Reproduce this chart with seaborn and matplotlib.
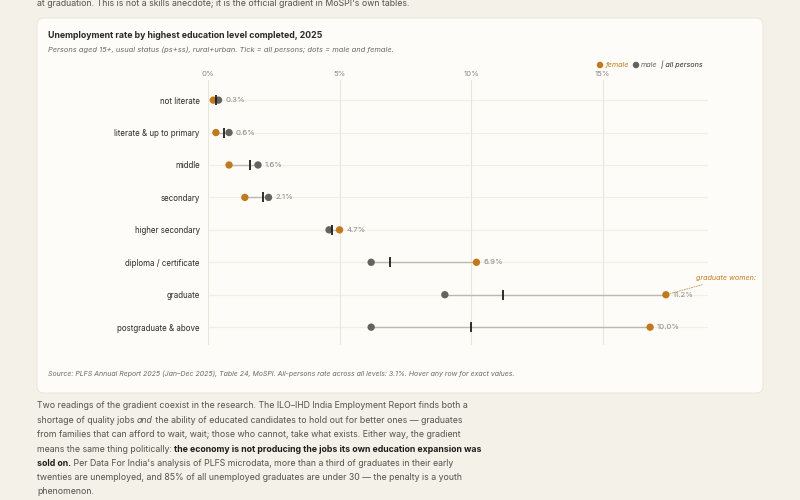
import numpy as np
import pandas as pd
import matplotlib.pyplot as plt
import seaborn as sns
from matplotlib.patches import FancyBboxPatch

# values (unemployment rate, %)
levels = ["not literate", "literate & up to primary", "middle", "secondary",
          "higher secondary", "diploma / certificate", "graduate", "postgraduate & above"]
female = [0.2, 0.3, 0.8, 1.4, 5.0, 10.2, 17.4, 16.8]
male = [0.4, 0.8, 1.9, 2.3, 4.6, 6.2, 9.0, 6.2]
persons = [0.3, 0.6, 1.6, 2.1, 4.7, 6.9, 11.2, 10.0]
x_ticks = [0, 5, 10, 15]
x_labels = ["0%", "5%", "10%", "15%"]

ORANGE = "#bf7a1c"
GREY = "#65635e"
INK = "#2b2a27"
MUTED = "#8a877f"

sns.set_theme(style="white")
plt.rcParams["font.family"] = ["Inter", "DejaVu Sans"]

df = pd.DataFrame({
    "level": levels * 2,
    "sex": ["female"] * len(levels) + ["male"] * len(levels),
    "rate": female + male,
})

fig = plt.figure(figsize=(8, 5), dpi=100)
fig.patch.set_facecolor("#f4f1e8")

# page layer in pixel coordinates
bg = fig.add_axes([0, 0, 1, 1], zorder=0)
bg.set_xlim(0, 800)
bg.set_ylim(500, 0)
bg.axis("off")
bg.add_patch(FancyBboxPatch((37, 18), 726, 375, boxstyle="round,pad=0,rounding_size=7",
                            facecolor="#fdfcf8", edgecolor="#ebe7dc", linewidth=0.8))

BODY = 6.3
bg.text(37, 3, "at graduation. This is not a skills anecdote; it is the official gradient in MoSPI's own tables.",
        fontsize=BODY, color="#555350", va="center", ha="left")

bg.text(48, 35, "Unemployment rate by highest education level completed, 2025",
        fontsize=6.3, fontweight="bold", color=INK, va="center")
bg.text(48, 50, "Persons aged 15+, usual status (ps+ss), rural+urban. Tick = all persons; dots = male and female.",
        fontsize=5.4, fontstyle="italic", color="#6b6963", va="center")
bg.text(48, 374, "Source: PLFS Annual Report 2025 (Jan\u2013Dec 2025), Table 24, MoSPI. All-persons rate across all levels: 3.1%. Hover any row for exact values.",
        fontsize=5.0, fontstyle="italic", color="#6b6963", va="center")

# chart
ax = fig.add_axes([208 / 800, 1 - 345 / 500, 500 / 800, 265 / 500], zorder=1)
ax.set_facecolor("none")

lo = np.minimum(female, male)
hi = np.maximum(female, male)
ypos = np.arange(len(levels))
for y in ypos:
    ax.axhline(y, color="#f1eee7", lw=0.9, zorder=0)
ax.hlines(ypos, lo, hi, color="#bcb9b1", lw=1.0, zorder=1)

sns.scatterplot(data=df, x="rate", y="level", hue="sex",
                palette={"female": ORANGE, "male": GREY},
                s=28, edgecolor="none", legend=False, zorder=3, ax=ax)
sns.scatterplot(x=persons, y=levels, marker="|", s=42, color="#1f1e1c",
                linewidth=1.3, zorder=4, ax=ax)

for y, h, p in zip(ypos, hi, persons):
    ax.annotate(f"{p:.1f}%", xy=(h, y), xytext=(5, 0), textcoords="offset points",
                fontsize=5.6, color=MUTED, va="center", ha="left")

g = levels.index("graduate")
ax.annotate("graduate women:", xy=(female[g], g), xytext=(22, 12), textcoords="offset points",
            fontsize=5.2, fontstyle="italic", color=ORANGE, va="center", ha="left",
            arrowprops=dict(arrowstyle="-", color="#c99a55", lw=0.6, linestyle=(0, (1.5, 1.5)),
                            shrinkA=1, shrinkB=3))

ax.set_xlim(0, 19)
ax.set_ylim(7.55, -0.62)
ax.set_xticks(x_ticks)
ax.set_xticklabels(x_labels)
ax.xaxis.tick_top()
ax.tick_params(axis="x", length=0, pad=2, labelsize=5.6, labelcolor=MUTED)
ax.tick_params(axis="y", length=0, pad=6, labelsize=5.7, labelcolor=INK)
ax.set_xlabel("")
ax.set_ylabel("")
for xt in x_ticks:
    ax.axvline(xt, color="#e9e6de", lw=0.8, zorder=0)
for s in ax.spines.values():
    s.set_visible(False)

# legend, nudged just above the 15% label so the two do not collide
LEG_Y = 65
bg.scatter([600], [LEG_Y], s=22, color=ORANGE, edgecolor="none")
bg.text(606, LEG_Y, "female", fontsize=5.2, fontstyle="italic", color=ORANGE, va="center")
bg.scatter([636], [LEG_Y], s=22, color=GREY, edgecolor="none")
bg.text(641, LEG_Y, "male", fontsize=5.2, fontstyle="italic", color=GREY, va="center")
bg.text(661, LEG_Y, "| all persons", fontsize=5.2, fontstyle="italic", color=INK, va="center")

# body paragraph, pieces chained so bold/italic runs sit inline
para = [
    [("Two readings of the gradient coexist in the research. The ILO\u2013IHD India Employment Report finds both a", "normal", "normal")],
    [("shortage of quality jobs ", "normal", "normal"), ("and", "normal", "italic"),
     (" the ability of educated candidates to hold out for better ones \u2014 graduates", "normal", "normal")],
    [("from families that can afford to wait, wait; those who cannot, take what exists. Either way, the gradient", "normal", "normal")],
    [("means the same thing politically: ", "normal", "normal"),
     ("the economy is not producing the jobs its own education expansion was", "bold", "normal")],
    [("sold on.", "bold", "normal"),
     (" Per Data For India's analysis of PLFS microdata, more than a third of graduates in their early", "normal", "normal")],
    [("twenties are unemployed, and 85% of all unemployed graduates are under 30 \u2014 the penalty is a youth", "normal", "normal")],
    [("phenomenon.", "normal", "normal")],
]
line_y = [406, 420.5, 434.5, 449, 463, 477, 491]
for pieces, y in zip(para, line_y):
    prev = None
    for txt, wt, st in pieces:
        col = "#1f1e1c" if wt == "bold" else "#55534e"
        if prev is None:
            prev = bg.text(37, y, txt, fontsize=BODY, fontweight=wt, fontstyle=st,
                           color=col, va="center", ha="left")
        else:
            prev = bg.annotate(txt, xy=(1, 0.5), xycoords=prev, fontsize=BODY, fontweight=wt,
                               fontstyle=st, color=col, va="center", ha="left")

fig.savefig("out.png", dpi=100, facecolor=fig.get_facecolor())
